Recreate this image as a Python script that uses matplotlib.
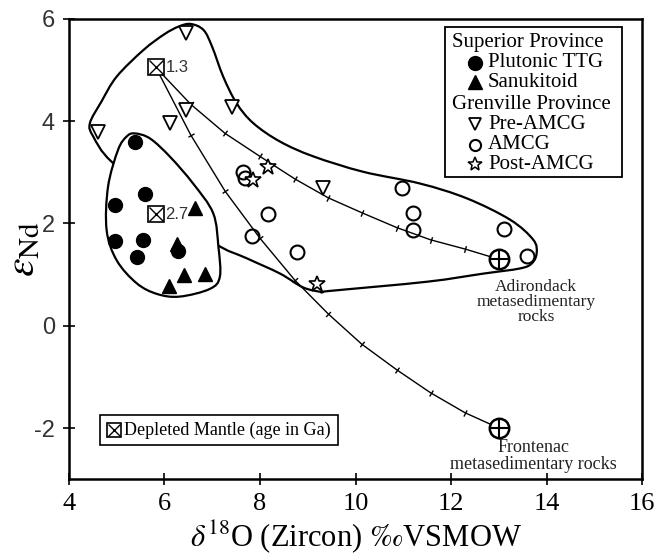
import numpy as np
import matplotlib
matplotlib.use("Agg")
import matplotlib.pyplot as plt
from matplotlib.path import Path
from matplotlib.patches import PathPatch, Rectangle

# Superior Province
ttg_x = [5.38, 5.59, 4.96, 4.96, 5.56, 5.43, 6.29]
ttg_y = [3.60, 2.58, 2.36, 1.66, 1.68, 1.35, 1.47]
sanuk_x = [6.64, 6.41, 6.85, 6.10, 6.27]
sanuk_y = [2.30, 0.99, 1.01, 0.78, 1.60]

# Grenville Province
pre_x = [4.61, 6.46, 6.46, 6.12, 7.41, 9.31]
pre_y = [3.78, 5.73, 4.22, 3.97, 4.28, 2.69]
amcg_x = [7.65, 7.69, 8.16, 7.83, 8.78, 10.97, 11.20, 11.20, 13.10, 13.59]
amcg_y = [3.00, 2.88, 2.18, 1.76, 1.45, 2.69, 2.20, 1.88, 1.90, 1.36]
post_x = [7.86, 8.17, 9.20]
post_y = [2.84, 3.11, 0.81]

# depleted mantle (age in Ga)
dm_x = [5.82, 5.82]
dm_y = [5.05, 2.18]
dm_age = ["1.3", "2.7"]

# metasedimentary end members (Adirondack, Frontenac)
sed_x = [13.0, 13.0]
sed_y = [1.30, -2.0]

# mixing curves DM 1.3 Ga -> metasediments, ticks every 10%
mix_x = [5.82, 6.55, 7.27, 8.00, 8.73, 9.43, 10.13, 10.86, 11.57, 12.29, 13.0]
mix_adk_y = [5.05, 4.33, 3.76, 3.31, 2.87, 2.50, 2.21, 1.92, 1.68, 1.50, 1.30]
mix_fro_y = [5.05, 3.73, 2.63, 1.71, 0.89, 0.23, -0.36, -0.86, -1.31, -1.70, -2.0]

# field outlines
gren_ox = [6.30, 6.55, 6.82, 7.00, 7.23, 7.51, 7.86, 8.42, 9.12, 10.16, 11.35, 12.33, 13.24,
           13.72, 13.79, 13.69, 13.44, 12.68, 11.49, 9.45, 9.30, 8.90, 8.42, 7.72, 7.06,
           6.0, 4.89, 4.51, 4.44, 4.68, 5.00, 5.56, 6.00]
gren_oy = [5.85, 5.90, 5.78, 5.45, 4.87, 4.35, 3.96, 3.60, 3.31, 3.01, 2.78, 2.49, 2.07,
           1.68, 1.42, 1.22, 1.12, 1.02, 0.86, 0.68, 0.66, 0.75, 1.02, 1.32, 1.61,
           2.40, 3.21, 3.70, 3.96, 4.38, 4.87, 5.39, 5.70]
ttg_ox = [5.38, 5.70, 6.12, 6.60, 7.02, 7.13, 7.16, 6.95, 6.32, 5.85, 5.42, 5.00, 4.79,
          4.82, 5.03, 5.21]
ttg_oy = [3.76, 3.66, 3.30, 2.78, 2.20, 1.54, 0.96, 0.72, 0.57, 0.62, 0.83, 1.28, 1.87,
          2.72, 3.44, 3.70]


def smooth_closed(xs, ys):
    # closed Catmull-Rom outline through the given vertices, as bezier path
    pts = np.column_stack([xs, ys])
    n = len(pts)
    verts = [pts[0]]
    codes = [Path.MOVETO]
    for i in range(n):
        p0, p1, p2, p3 = pts[i - 1], pts[i], pts[(i + 1) % n], pts[(i + 2) % n]
        verts += [p1 + (p2 - p0) / 6, p2 - (p3 - p1) / 6, p2]
        codes += [Path.CURVE4] * 3
    return Path(verts, codes)


plt.rcParams['font.family'] = ['Liberation Serif', 'DejaVu Serif']
plt.rcParams['mathtext.fontset'] = 'stix'
plt.rcParams['axes.unicode_minus'] = False

fig = plt.figure(figsize=(6.56, 5.54), dpi=100)
ax = fig.add_axes([0.105, 0.135, 0.874, 0.831])
ax.set_xlim(4, 16)
ax.set_ylim(-3, 6)

ax.add_patch(PathPatch(smooth_closed(gren_ox, gren_oy), fc='none', ec='black', lw=1.6, zorder=1))
ax.add_patch(PathPatch(smooth_closed(ttg_ox, ttg_oy), fc='white', ec='black', lw=1.6, zorder=2))

# mixing lines with little tick marks
for my in [mix_adk_y, mix_fro_y]:
    ax.plot(mix_x, my, color='black', lw=1.0, zorder=3)
    disp = ax.transData.transform(np.column_stack([mix_x, my]))
    for i in range(1, len(mix_x) - 1):
        d = disp[i + 1] - disp[i - 1]
        ang = np.degrees(np.arctan2(d[1], d[0]))
        ax.plot(mix_x[i], my[i], marker=(2, 0, ang), ms=5, mew=1.0, color='black', zorder=3)

ax.plot(ttg_x, ttg_y, 'o', color='black', ms=10, zorder=5)
ax.plot(sanuk_x, sanuk_y, '^', color='black', ms=10, zorder=4)
ax.plot(pre_x, pre_y, 'v', mfc='white', mec='black', mew=1.3, ms=10, ls='none', zorder=5)
ax.plot(amcg_x, amcg_y, 'o', mfc='none', mec='black', mew=1.5, ms=10, ls='none', zorder=5)
ax.plot(post_x, post_y, '*', mfc='white', mec='black', mew=1.2, ms=12, ls='none', zorder=5)

ax.plot(sed_x, sed_y, 'o', mfc='white', mec='black', mew=1.8, ms=14, ls='none', zorder=5)
ax.plot(sed_x, sed_y, '+', color='black', mew=1.5, ms=14, ls='none', zorder=6)

ax.plot(dm_x, dm_y, 's', mfc='white', mec='black', mew=1.2, ms=11, ls='none', zorder=5)
ax.plot(dm_x, dm_y, 'x', color='black', mew=1.0, ms=10, ls='none', zorder=6)
for x, y, a in zip(dm_x, dm_y, dm_age):
    ax.text(x + 0.2, y, a, fontsize=12, family='Liberation Sans', color='#333333',
            va='center', ha='left', zorder=6)

ax.text(13.78, 0.92, "Adirondack\nmetasedimentary\nrocks", fontsize=12.5, ha='center',
        va='top', linespacing=0.95, color='#222222')
ax.text(13.72, -2.22, "Frontenac\nmetasedimentary rocks", fontsize=13, ha='center',
        va='top', linespacing=0.95, color='#222222')

# legend box
ax.add_patch(Rectangle((0.656, 0.657), 0.309, 0.326, transform=ax.transAxes, fc='white',
                       ec='black', lw=1.3, zorder=7))
leg_rows = [
    (0.948, None, "Superior Province"),
    (0.905, dict(marker='o', mfc='black', mec='black', ms=10), "Plutonic TTG"),
    (0.862, dict(marker='^', mfc='black', mec='black', ms=10), "Sanukitoid"),
    (0.815, None, "Grenville Province"),
    (0.771, dict(marker='v', mfc='white', mec='black', mew=1.3, ms=9), "Pre-AMCG"),
    (0.727, dict(marker='o', mfc='white', mec='black', mew=1.5, ms=8), "AMCG"),
    (0.684, dict(marker='*', mfc='white', mec='black', mew=1.1, ms=10), "Post-AMCG"),
]
for ly, mk, label in leg_rows:
    if mk is None:
        ax.text(0.668, ly, label, transform=ax.transAxes, fontsize=15, va='center',
                ha='left', zorder=8)
    else:
        ax.plot([0.709], [ly], transform=ax.transAxes, ls='none', zorder=8, **mk)
        ax.text(0.731, ly, label, transform=ax.transAxes, fontsize=15, va='center',
                ha='left', zorder=8)

# depleted mantle key
ax.add_patch(Rectangle((0.055, 0.074), 0.414, 0.065, transform=ax.transAxes, fc='white',
                       ec='black', lw=1.2, zorder=7))
ax.plot([0.078], [0.107], 's', transform=ax.transAxes, mfc='white', mec='black', mew=1.2,
        ms=10, zorder=8)
ax.plot([0.078], [0.107], 'x', transform=ax.transAxes, color='black', mew=1.0, ms=9, zorder=9)
ax.text(0.097, 0.107, "Depleted Mantle (age in Ga)", transform=ax.transAxes, fontsize=13,
        va='center', ha='left', zorder=8)

ax.set_xticks([4, 6, 8, 10, 12, 14, 16])
ax.set_yticks([-2, 0, 2, 4, 6])
ax.tick_params(direction='inout', length=8, width=1.2, pad=6)
ax.tick_params(axis='x', labelsize=19)
ax.tick_params(axis='y', labelsize=17)
for lab in ax.get_yticklabels():
    lab.set_family('Liberation Sans')
    lab.set_color('#333333')
for sp in ax.spines.values():
    sp.set_linewidth(1.8)

ax.set_xlabel(r"$\delta^{18}$O (Zircon) $\it{‰}$VSMOW", fontsize=22, labelpad=2)
ax.set_ylabel(r"$\varepsilon_{\rm Nd}$", fontsize=30)
ax.yaxis.set_label_coords(-0.045, 0.50)

fig.savefig("out.png", dpi=100)
